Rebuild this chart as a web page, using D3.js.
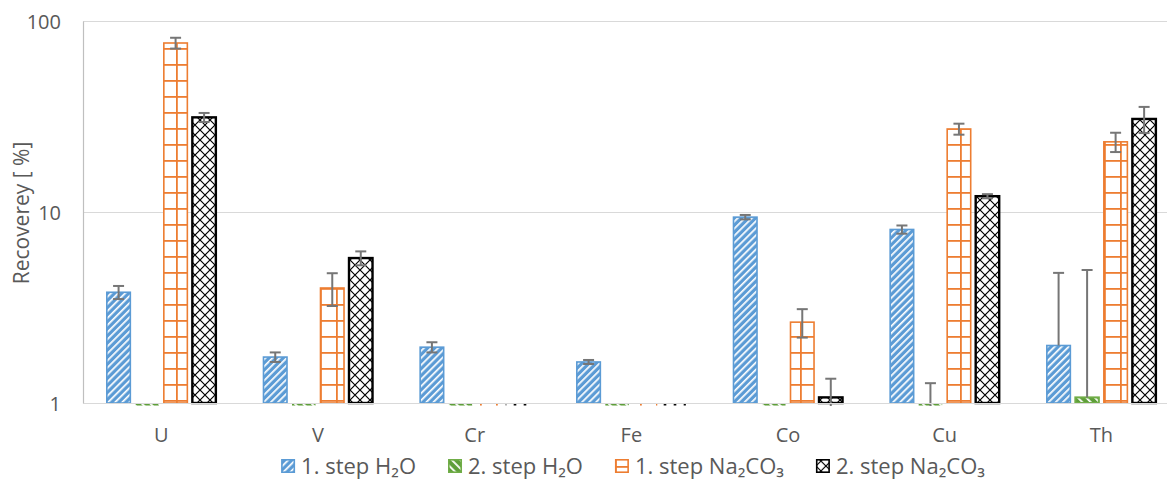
<!DOCTYPE html>
<html>
<head>
<meta charset="utf-8">
<script src="https://cdn.jsdelivr.net/npm/d3@7"></script>
<style>
  html, body { margin: 0; padding: 0; background: #fff; }
  svg { display: block; font-family: "Open Sans", "Noto Sans", sans-serif; }
</style>
</head>
<body>
<svg id="chart" width="1167" height="480"></svg>
<script>
// Elements analysed
const categories = ["U", "V", "Cr", "Fe", "Co", "Cu", "Th"];

// Recovery [%] per leaching step, with standard deviations
const step1H2O      = [3.8, 1.74, 1.96, 1.64, 9.4, 8.1, 2.0];
const step1H2OErr   = [0.3, 0.1, 0.12, 0.04, 0.25, 0.4, 2.8];
const step2H2O      = [0.97, 0.97, 0.97, 0.97, 0.97, 0.97, 1.07];
const step2H2OErr   = [0, 0, 0, 0, 0, 0.3, 3.9];
const step1Na2CO3    = [76.7, 4.0, 0.97, 0.97, 2.65, 27.2, 23.3];
const step1Na2CO3Err = [5.0, 0.78, 0, 0, 0.45, 1.8, 2.7];
const step2Na2CO3    = [31.3, 5.74, 0.97, 0.97, 1.07, 12.1, 30.7];
const step2Na2CO3Err = [1.7, 0.48, 0, 0, 0.27, 0.3, 4.8];

const yTicks = [1, 10, 100];
const yTitle = "Recoverey [ %]";
const seriesLabels = ["1. step H₂O", "2. step H₂O", "1. step Na₂CO₃", "2. step Na₂CO₃"];

const series = [
  { key: "s1w", label: seriesLabels[0], values: step1H2O,    errors: step1H2OErr },
  { key: "s2w", label: seriesLabels[1], values: step2H2O,    errors: step2H2OErr },
  { key: "s1n", label: seriesLabels[2], values: step1Na2CO3, errors: step1Na2CO3Err },
  { key: "s2n", label: seriesLabels[3], values: step2Na2CO3, errors: step2Na2CO3Err }
];

const svg = d3.select("#chart");
const plot = { left: 83, top: 21, bottom: 403, right: 83 + 7 * 156.67 };
const textColor = "#595959";

// ---- fill patterns ----
const defs = svg.append("defs");

const pBlue = defs.append("pattern").attr("id", "pat-s1w")
  .attr("patternUnits", "userSpaceOnUse").attr("width", 5).attr("height", 5)
  .attr("patternTransform", "rotate(45)");
pBlue.append("rect").attr("width", 5).attr("height", 5).attr("fill", "#5B9BD5");
pBlue.append("rect").attr("x", 0).attr("width", 1.7).attr("height", 5).attr("fill", "#fff");

const pGreen = defs.append("pattern").attr("id", "pat-s2w")
  .attr("patternUnits", "userSpaceOnUse").attr("width", 6).attr("height", 6)
  .attr("patternTransform", "rotate(-45)");
pGreen.append("rect").attr("width", 6).attr("height", 6).attr("fill", "#5E9E3A");
pGreen.append("rect").attr("x", 0).attr("width", 1.8).attr("height", 6).attr("fill", "#fff");

const pOrange = defs.append("pattern").attr("id", "pat-s1n")
  .attr("patternUnits", "userSpaceOnUse").attr("width", 16).attr("height", 16);
pOrange.append("rect").attr("width", 16).attr("height", 16).attr("fill", "#fff");
pOrange.append("rect").attr("x", 0).attr("width", 1.8).attr("height", 16).attr("fill", "#ED7D31");
pOrange.append("rect").attr("y", 0).attr("width", 16).attr("height", 1.8).attr("fill", "#ED7D31");

const pBlack = defs.append("pattern").attr("id", "pat-s2n")
  .attr("patternUnits", "userSpaceOnUse").attr("width", 10).attr("height", 10);
pBlack.append("rect").attr("width", 10).attr("height", 10).attr("fill", "#fff");
pBlack.append("path").attr("d", "M0,0L10,10M10,0L0,10")
  .attr("stroke", "#000").attr("stroke-width", 1.2).attr("fill", "none");

const strokeOf = { s1w: "#5B9BD5", s2w: "#70AD47", s1n: "#ED7D31", s2n: "#000" };
const strokeW  = { s1w: 1.6, s2w: 2, s1n: 1.6, s2n: 2.4 };

defs.append("clipPath").attr("id", "plot-clip").append("rect")
  .attr("x", plot.left).attr("y", 0)
  .attr("width", plot.right - plot.left).attr("height", plot.bottom + 3);

// ---- scales ----
const x0 = d3.scaleBand().domain(categories)
  .range([plot.left, plot.right]).paddingInner(0.304).paddingOuter(0.152);
const x1 = d3.scaleBand().domain(series.map(s => s.key))
  .range([0, x0.bandwidth()]).paddingInner(0.175).paddingOuter(0);
const y = d3.scaleLog().domain([1, 100]).range([plot.bottom, plot.top]);

// ---- gridlines ----
svg.append("g").attr("transform", `translate(${plot.left},0)`)
  .call(d3.axisLeft(y).tickValues(yTicks).tickSize(-(plot.right - plot.left)).tickFormat(""))
  .call(g => g.select(".domain").remove())
  .call(g => g.selectAll(".tick line").attr("stroke", "#d9d9d9").attr("stroke-width", 1.2));

// ---- bars ----
const barsG = svg.append("g").attr("clip-path", "url(#plot-clip)");
const base = y(1);
series.forEach(s => {
  const g = barsG.append("g");
  g.selectAll("rect").data(categories.map((c, i) => ({ c, v: s.values[i] })))
    .join("rect")
    .attr("x", d => x0(d.c) + x1(s.key))
    .attr("width", x1.bandwidth())
    .attr("y", d => Math.min(y(d.v), base))
    .attr("height", d => Math.abs(y(d.v) - base))
    .attr("fill", `url(#pat-${s.key})`)
    .attr("stroke", d => d.v >= 1 ? strokeOf[s.key] : "none")
    .attr("stroke-width", strokeW[s.key]);
});

// ---- error bars (minus side omitted when it would reach zero on the log axis) ----
const errG = svg.append("g").attr("clip-path", "url(#plot-clip)")
  .attr("stroke", "#767676").attr("stroke-width", 2).attr("fill", "none");
series.forEach(s => {
  categories.forEach((c, i) => {
    const e = s.errors[i];
    if (!e) return;
    const v = s.values[i];
    const cx = x0(c) + x1(s.key) + x1.bandwidth() / 2;
    const hi = y(v + e);
    const hasLo = v - e > 0;
    const lo = hasLo ? y(v - e) : y(v);
    errG.append("line").attr("x1", cx).attr("x2", cx).attr("y1", hi).attr("y2", lo);
    errG.append("line").attr("x1", cx - 5.5).attr("x2", cx + 5.5).attr("y1", hi).attr("y2", hi);
    if (hasLo) {
      errG.append("line").attr("x1", cx - 5.5).attr("x2", cx + 5.5).attr("y1", lo).attr("y2", lo);
    }
  });
});

// ---- axes ----
svg.append("g").attr("transform", `translate(${plot.left},0)`)
  .call(d3.axisLeft(y).tickValues(yTicks).tickFormat(d3.format("d")).tickSize(0).tickSizeOuter(0).tickPadding(22))
  .call(g => g.select(".domain").attr("stroke", "#bfbfbf").attr("stroke-width", 1.2))
  .call(g => g.selectAll("text").attr("fill", textColor).style("font-size", "20px")
    .style("font-family", "'Open Sans', sans-serif").attr("dy", "0.35em"));

svg.append("g").attr("transform", `translate(0,${plot.bottom})`)
  .call(d3.axisBottom(x0).tickSize(0).tickSizeOuter(0))
  .call(g => g.select(".domain").attr("stroke", "#d9d9d9").attr("stroke-width", 1.2))
  .call(g => g.selectAll("text").attr("fill", textColor).style("font-size", "20px")
    .style("font-family", "'Open Sans', sans-serif").attr("y", 39).attr("dy", 0));

svg.append("text")
  .attr("transform", `translate(29,${(plot.top + plot.bottom) / 2 + 1}) rotate(-90)`)
  .attr("text-anchor", "middle").attr("fill", textColor)
  .style("font-size", "21px").text(yTitle);

// ---- legend ----
const legend = svg.append("g");
const items = [];
series.forEach(s => {
  const g = legend.append("g");
  g.append("rect").attr("x", 0.8).attr("y", -6.2).attr("width", 12.4).attr("height", 12.4)
    .attr("fill", `url(#pat-${s.key})`).attr("stroke", strokeOf[s.key]).attr("stroke-width", 1.6);
  const t = g.append("text").attr("x", 20).attr("y", 0).attr("dy", "0.35em")
    .attr("fill", textColor).style("font-size", "22px").text(s.label);
  const w = 20 + t.node().getComputedTextLength();
  items.push({ g, w });
});
const gap = 32;
const total = d3.sum(items, d => d.w) + gap * (items.length - 1);
let cursor = 633 - total / 2;
items.forEach(it => {
  it.g.attr("transform", `translate(${cursor},466)`);
  cursor += it.w + gap;
});
</script>
</body>
</html>
